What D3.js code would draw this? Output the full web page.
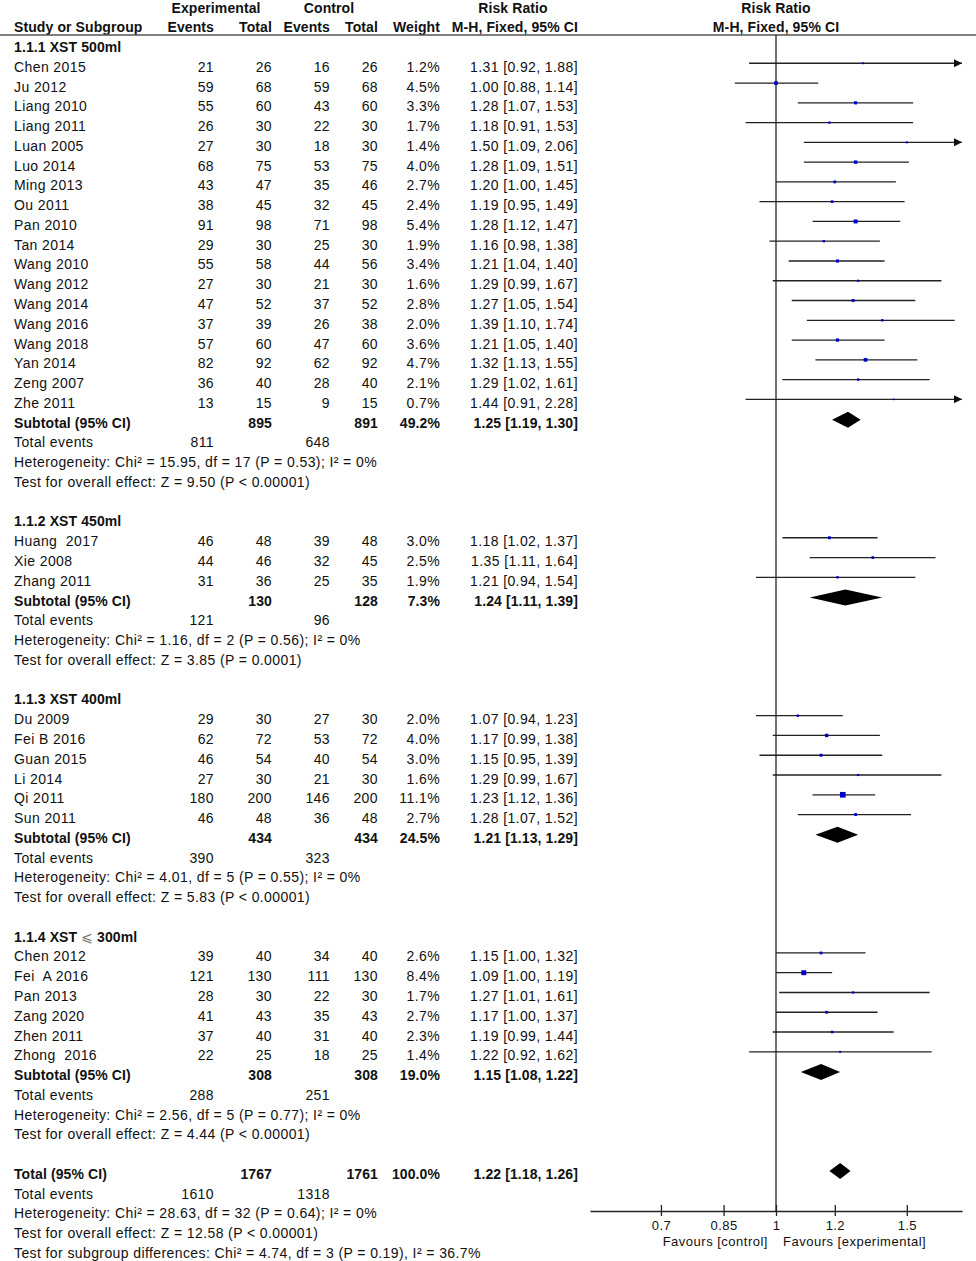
<!DOCTYPE html>
<html><head><meta charset="utf-8">
<script src="https://cdn.jsdelivr.net/npm/d3@7"></script>
<style>
body{margin:0;background:#fff;}
svg text{font-family:"Liberation Sans",Arial,sans-serif;font-size:14px;fill:#111;white-space:pre;}
</style></head>
<body><svg id="c" width="976" height="1261"></svg>
<script>
// ---------- data ----------
const groupLabels = ["1.1.1 XST 500ml","1.1.2 XST 450ml","1.1.3 XST 400ml","1.1.4 XST \u2A7D 300ml"];
const studies = ["Chen 2015","Ju 2012","Liang 2010","Liang 2011","Luan 2005","Luo 2014","Ming 2013","Ou 2011","Pan 2010","Tan 2014","Wang 2010","Wang 2012","Wang 2014","Wang 2016","Wang 2018","Yan 2014","Zeng 2007","Zhe 2011",
  "Huang  2017","Xie 2008","Zhang 2011",
  "Du 2009","Fei B 2016","Guan 2015","Li 2014","Qi 2011","Sun 2011",
  "Chen 2012","Fei  A 2016","Pan 2013","Zang 2020","Zhen 2011","Zhong  2016"];
const studyGroup = [0,0,0,0,0,0,0,0,0,0,0,0,0,0,0,0,0,0, 1,1,1, 2,2,2,2,2,2, 3,3,3,3,3,3];
const expEvents = [21,59,55,26,27,68,43,38,91,29,55,27,47,37,57,82,36,13, 46,44,31, 29,62,46,27,180,46, 39,121,28,41,37,22];
const expTotal  = [26,68,60,30,30,75,47,45,98,30,58,30,52,39,60,92,40,15, 48,46,36, 30,72,54,30,200,48, 40,130,30,43,40,25];
const ctrlEvents= [16,59,43,22,18,53,35,32,71,25,44,21,37,26,47,62,28,9, 39,32,25, 27,53,40,21,146,36, 34,111,22,35,31,18];
const ctrlTotal = [26,68,60,30,30,75,46,45,98,30,56,30,52,38,60,92,40,15, 48,45,35, 30,72,54,30,200,48, 40,130,30,43,40,25];
const weights   = [1.2,4.5,3.3,1.7,1.4,4.0,2.7,2.4,5.4,1.9,3.4,1.6,2.8,2.0,3.6,4.7,2.1,0.7, 3.0,2.5,1.9, 2.0,4.0,3.0,1.6,11.1,2.7, 2.6,8.4,1.7,2.7,2.3,1.4];
const rr        = [1.31,1.00,1.28,1.18,1.50,1.28,1.20,1.19,1.28,1.16,1.21,1.29,1.27,1.39,1.21,1.32,1.29,1.44, 1.18,1.35,1.21, 1.07,1.17,1.15,1.29,1.23,1.28, 1.15,1.09,1.27,1.17,1.19,1.22];
const rrLo      = [0.92,0.88,1.07,0.91,1.09,1.09,1.00,0.95,1.12,0.98,1.04,0.99,1.05,1.10,1.05,1.13,1.02,0.91, 1.02,1.11,0.94, 0.94,0.99,0.95,0.99,1.12,1.07, 1.00,1.00,1.01,1.00,0.99,0.92];
const rrHi      = [1.88,1.14,1.53,1.53,2.06,1.51,1.45,1.49,1.47,1.38,1.40,1.67,1.54,1.74,1.40,1.55,1.61,2.28, 1.37,1.64,1.54, 1.23,1.38,1.39,1.67,1.36,1.52, 1.32,1.19,1.61,1.37,1.44,1.62];

const subExpTotal   = [895,130,434,308];
const subCtrlTotal  = [891,128,434,308];
const subWeight     = ["49.2%","7.3%","24.5%","19.0%"];
const subRR         = [1.25,1.24,1.21,1.15];
const subLo         = [1.19,1.11,1.13,1.08];
const subHi         = [1.30,1.39,1.29,1.22];
const subExpEvents  = [811,121,390,288];
const subCtrlEvents = [648,96,323,251];
const subHetero = ["Heterogeneity: Chi\u00B2 = 15.95, df = 17 (P = 0.53); I\u00B2 = 0%",
                   "Heterogeneity: Chi\u00B2 = 1.16, df = 2 (P = 0.56); I\u00B2 = 0%",
                   "Heterogeneity: Chi\u00B2 = 4.01, df = 5 (P = 0.55); I\u00B2 = 0%",
                   "Heterogeneity: Chi\u00B2 = 2.56, df = 5 (P = 0.77); I\u00B2 = 0%"];
const subEffect = ["Test for overall effect: Z = 9.50 (P < 0.00001)",
                   "Test for overall effect: Z = 3.85 (P = 0.0001)",
                   "Test for overall effect: Z = 5.83 (P < 0.00001)",
                   "Test for overall effect: Z = 4.44 (P < 0.00001)"];
const totalValues = {expTotal:1767, ctrlTotal:1761, weight:"100.0%", rr:1.22, lo:1.18, hi:1.26, expEvents:1610, ctrlEvents:1318};
const totalLines = ["Heterogeneity: Chi\u00B2 = 28.63, df = 32 (P = 0.64); I\u00B2 = 0%",
                    "Test for overall effect: Z = 12.58 (P < 0.00001)",
                    "Test for subgroup differences: Chi\u00B2 = 4.74, df = 3 (P = 0.19), I\u00B2 = 36.7%"];
const tickValues = [0.7,0.85,1,1.2,1.5];
const tickLabels = ["0.7","0.85","1","1.2","1.5"];

// ---------- build rows ----------
const rows = [];
groupLabels.forEach((g,gi)=>{
  rows.push({type:"group",label:g});
  studies.forEach((s,i)=>{ if(studyGroup[i]===gi) rows.push({type:"study",i}); });
  rows.push({type:"subtotal",gi});
  rows.push({type:"events",e:subExpEvents[gi],c:subCtrlEvents[gi]});
  rows.push({type:"note",label:subHetero[gi]});
  rows.push({type:"note",label:subEffect[gi]});
  rows.push({type:"blank"});
});
rows.push({type:"total"});
rows.push({type:"events",e:totalValues.expEvents,c:totalValues.ctrlEvents});
totalLines.forEach(l=>rows.push({type:"note",label:l}));

const svg = d3.select("#c");
const rowY = d3.scaleLinear().domain([0,61]).range([47,1253]);
const x = d3.scaleLog().domain([1/1.78,1.78]).range([590,962]);
const col = {name:14, ee:214, et:272, ce:330, ct:378, w:440, rr:578};
const fmt = v=>v.toFixed(2);
const rrText = (r,l,h)=>`${fmt(r)} [${fmt(l)}, ${fmt(h)}]`;

function txt(xp,y,s,anchor,bold){
  return svg.append("text").attr("x",xp).attr("y",y+5).attr("text-anchor",anchor||"start")
    .style("font-weight",bold?"bold":"normal")
    .style("letter-spacing",bold?"0.1px":"0.4px").text(s);
}

// header
txt(216,8,"Experimental","middle",true);
txt(329,8,"Control","middle",true);
txt(513,8,"Risk Ratio","middle",true);
txt(776,8,"Risk Ratio","middle",true);
txt(col.name,27,"Study or Subgroup","start",true);
txt(col.ee,27,"Events","end",true);
txt(col.et,27,"Total","end",true);
txt(col.ce,27,"Events","end",true);
txt(col.ct,27,"Total","end",true);
txt(col.w,27,"Weight","end",true);
txt(col.rr,27,"M-H, Fixed, 95% CI","end",true);
txt(776,27,"M-H, Fixed, 95% CI","middle",true);
svg.append("line").attr("x1",0).attr("x2",976).attr("y1",35).attr("y2",35).attr("stroke","#555").attr("stroke-width",1.6);

// null line
svg.append("line").attr("x1",x(1)).attr("x2",x(1)).attr("y1",35).attr("y2",1211).attr("stroke","#111").attr("stroke-width",1.2);

function diamond(y,r,l,h){
  const yc=y-3, hh=8;
  svg.append("path").attr("d",`M${x(l)},${yc} L${x(r)},${yc-hh} L${x(h)},${yc} L${x(r)},${yc+hh} Z`).attr("fill","#000");
}

rows.forEach((r,ri)=>{
  const y=rowY(ri);
  if(r.type==="group"){
    const t=txt(col.name,y,"","start",true);
    if(r.label.includes("\u2A7D")){
      const parts=r.label.split("\u2A7D");
      t.append("tspan").text(parts[0]);
      t.append("tspan").style("font-weight","normal").style("fill","#777").style("font-family","DejaVu Sans").text("\u2A7D");
      t.append("tspan").text(parts[1]);
    } else t.text(r.label);
  } else if(r.type==="study"){
    const i=r.i;
    txt(col.name,y,studies[i]);
    txt(col.ee,y,expEvents[i],"end");
    txt(col.et,y,expTotal[i],"end");
    txt(col.ce,y,ctrlEvents[i],"end");
    txt(col.ct,y,ctrlTotal[i],"end");
    txt(col.w,y,weights[i].toFixed(1)+"%","end");
    txt(col.rr,y,rrText(rr[i],rrLo[i],rrHi[i]),"end");
    const ym=y-3.5;
    const [dmin,dmax]=x.domain();
    const x1=x(Math.max(rrLo[i],dmin)), x2=x(Math.min(rrHi[i],dmax));
    svg.append("line").attr("x1",x1).attr("x2",x2).attr("y1",ym).attr("y2",ym).attr("stroke","#222").attr("stroke-width",1.3);
    if(rrHi[i]>dmax){
      svg.append("path").attr("d",`M${x2},${ym} L${x2-8},${ym-4} L${x2-8},${ym+4} Z`).attr("fill","#111");
    }
    const s=Math.max(1.6,1.7*Math.sqrt(weights[i]));
    svg.append("rect").attr("x",x(rr[i])-s/2).attr("y",ym-s/2).attr("width",s).attr("height",s).attr("fill","#0000c8");
  } else if(r.type==="subtotal"){
    const g=r.gi;
    txt(col.name,y,"Subtotal (95% CI)","start",true);
    txt(col.et,y,subExpTotal[g],"end",true);
    txt(col.ct,y,subCtrlTotal[g],"end",true);
    txt(col.w,y,subWeight[g],"end",true);
    txt(col.rr,y,rrText(subRR[g],subLo[g],subHi[g]),"end",true);
    diamond(y,subRR[g],subLo[g],subHi[g]);
  } else if(r.type==="total"){
    txt(col.name,y,"Total (95% CI)","start",true);
    txt(col.et,y,totalValues.expTotal,"end",true);
    txt(col.ct,y,totalValues.ctrlTotal,"end",true);
    txt(col.w,y,totalValues.weight,"end",true);
    txt(col.rr,y,rrText(totalValues.rr,totalValues.lo,totalValues.hi),"end",true);
    diamond(y,totalValues.rr,totalValues.lo,totalValues.hi);
  } else if(r.type==="events"){
    txt(col.name,y,"Total events");
    txt(col.ee,y,r.e,"end");
    txt(col.ce,y,r.c,"end");
  } else if(r.type==="note"){
    txt(col.name,y,r.label);
  }
});

// axis
const axisG = svg.append("g").attr("transform","translate(0,1211)")
  .call(d3.axisBottom(x).tickValues(tickValues).tickFormat((d,i)=>tickLabels[i]).tickSizeOuter(0).tickSizeInner(5).tickPadding(10));
axisG.select(".domain").attr("stroke","#222").attr("stroke-width",1.5);
axisG.selectAll(".tick line").attr("y1",-6).attr("y2",5).attr("stroke","#222").attr("stroke-width",1.3);
axisG.selectAll(".tick text").attr("y",19).attr("dy",0)
  .style("font-size","13px").style("letter-spacing","0.4px")
  .style("font-family","Liberation Sans, Arial, sans-serif").attr("fill","#111");
svg.append("text").attr("x",768).attr("y",1246).attr("text-anchor","end")
  .style("font-size","13px").style("letter-spacing","0.5px").text("Favours [control]");
svg.append("text").attr("x",783).attr("y",1246).attr("text-anchor","start")
  .style("font-size","13px").style("letter-spacing","0.5px").text("Favours [experimental]");
</script></body></html>
